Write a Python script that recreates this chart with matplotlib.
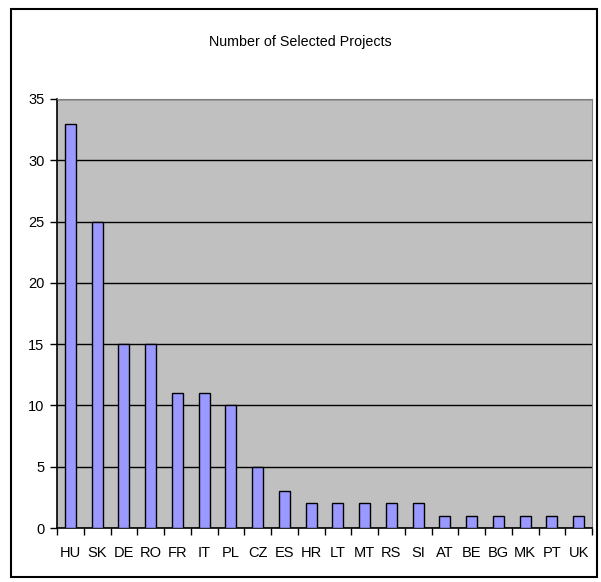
import matplotlib.pyplot as plt
from matplotlib.patches import Rectangle

countries = ['HU', 'SK', 'DE', 'RO', 'FR', 'IT', 'PL', 'CZ', 'ES', 'HR',
             'LT', 'MT', 'RS', 'SI', 'AT', 'BE', 'BG', 'MK', 'PT', 'UK']
projects = [33, 25, 15, 15, 11, 11, 10, 5, 3, 2, 2, 2, 2, 2, 1, 1, 1, 1, 1, 1]

plt.rcParams['font.family'] = ['Liberation Sans', 'DejaVu Sans']

fig = plt.figure(figsize=(6.01, 5.82), dpi=100)
fig.patches.append(Rectangle((11 / 601, 5 / 582), 586 / 601, 568 / 582,
                             transform=fig.transFigure, fill=False,
                             edgecolor='black', linewidth=1.5))

ax = fig.add_axes([57 / 601, 54 / 582, 535 / 601, 429 / 582])
ax.set_facecolor('#c0c0c0')
x = range(len(countries))
ax.bar(x, projects, width=0.42, color='#9999ff', edgecolor='black',
       linewidth=1, zorder=3)
ax.set_xlim(-0.5, len(countries) - 0.5)
ax.set_ylim(0, 35)
ax.set_yticks(range(0, 36, 5))
ax.yaxis.grid(True, color='black', linewidth=1)
ax.set_axisbelow(True)
ax.set_xticks([i - 0.5 for i in range(len(countries) + 1)], minor=False)
ax.set_xticklabels([])
ax.set_xticks(list(x), minor=True)
ax.set_xticklabels(countries, minor=True)
ax.tick_params(axis='x', which='minor', length=0, pad=13, labelsize=10.5)
ax.tick_params(axis='x', which='major', length=5, direction='out', width=1)
ax.tick_params(axis='y', length=5, direction='out', width=1, labelsize=10.5, pad=4)
ax.spines['top'].set_color('#808080')
ax.spines['right'].set_color('#808080')
ax.spines['left'].set_linewidth(1.2)
ax.spines['bottom'].set_linewidth(1.2)

fig.text(0.5, 1 - 42 / 582, 'Number of Selected Projects', ha='center',
         va='center', fontsize=10.3)

fig.savefig('out.png', dpi=100)
